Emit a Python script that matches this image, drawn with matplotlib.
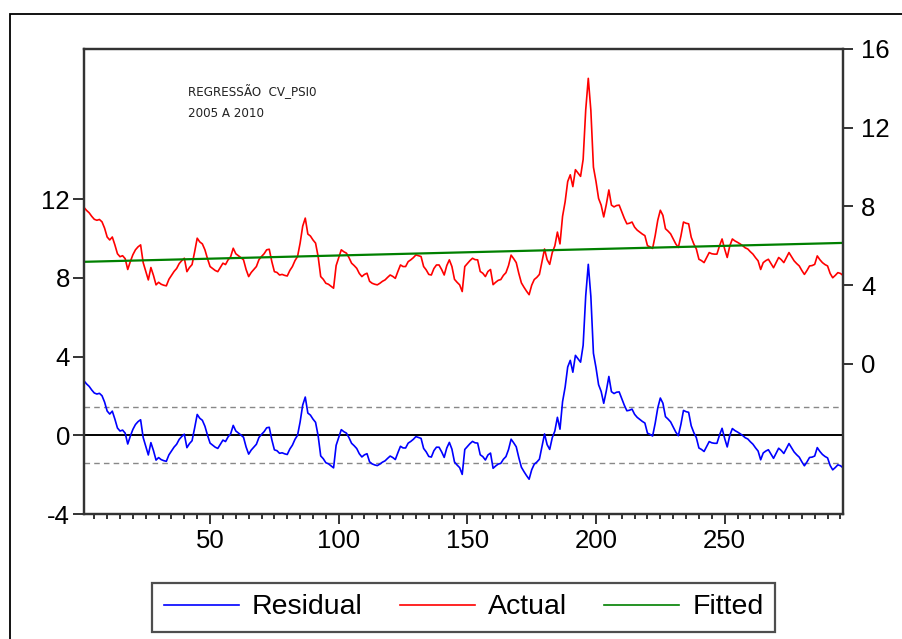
import numpy as np
import matplotlib.pyplot as plt
from matplotlib.patches import Rectangle
from matplotlib.lines import Line2D

plt.rcParams['font.family'] = ['Liberation Sans', 'DejaVu Sans']
plt.rcParams['axes.unicode_minus'] = False

# Actual series (right axis), one value per observation 1..296
actual = [
    7.95, 7.80, 7.68, 7.50, 7.35, 7.30, 7.34, 7.22, 6.90, 6.45,
    6.30, 6.45, 6.05, 5.60, 5.45, 5.50, 5.35, 4.80, 5.20, 5.55,
    5.80, 5.95, 6.05, 5.15, 4.70, 4.27, 4.90, 4.50, 4.02, 4.15,
    4.05, 4.00, 3.97, 4.30, 4.50, 4.70, 4.85, 5.10, 5.25, 5.37,
    4.69, 4.90, 5.05, 5.70, 6.39, 6.20, 6.10, 5.80, 5.35, 4.95,
    4.85, 4.75, 4.69, 4.90, 5.12, 5.05, 5.29, 5.45, 5.88, 5.60,
    5.50, 5.40, 5.29, 4.80, 4.44, 4.65, 4.80, 4.95, 5.30, 5.46,
    5.60, 5.80, 5.83, 5.20, 4.69, 4.65, 4.52, 4.55, 4.50, 4.47,
    4.75, 4.95, 5.25, 5.46, 6.14, 7.00, 7.41, 6.60, 6.50, 6.30,
    6.14, 5.46, 4.44, 4.30, 4.10, 4.05, 3.95, 3.85, 5.00, 5.40,
    5.80, 5.70, 5.63, 5.40, 5.12, 5.00, 4.86, 4.60, 4.44, 4.55,
    4.61, 4.20, 4.10, 4.05, 4.02, 4.10, 4.20, 4.27, 4.40, 4.52,
    4.45, 4.35, 4.70, 5.03, 4.95, 4.95, 5.20, 5.29, 5.40, 5.54,
    5.50, 5.46, 4.95, 4.78, 4.55, 4.52, 4.85, 5.03, 5.03, 4.80,
    4.52, 5.00, 5.29, 4.95, 4.30, 4.15, 4.02, 3.68, 4.95, 5.10,
    5.25, 5.37, 5.30, 5.29, 4.70, 4.61, 4.44, 4.70, 4.80, 4.03,
    4.15, 4.25, 4.29, 4.50, 4.64, 5.00, 5.53, 5.35, 5.15, 4.60,
    4.12, 3.90, 3.70, 3.52, 4.00, 4.29, 4.40, 4.55, 5.20, 5.84,
    5.30, 5.06, 5.66, 6.00, 6.70, 6.10, 7.50, 8.24, 9.27, 9.61,
    9.01, 9.87, 9.70, 9.53, 10.39, 12.90, 14.51, 12.88, 10.00, 9.27,
    8.41, 8.07, 7.47, 8.10, 8.84, 8.07, 7.98, 8.05, 8.07, 7.73,
    7.40, 7.12, 7.15, 7.21, 6.95, 6.80, 6.70, 6.60, 6.52, 6.01,
    5.95, 5.87, 6.52, 7.30, 7.81, 7.55, 6.87, 6.75, 6.61, 6.35,
    6.10, 5.92, 6.50, 7.21, 7.15, 7.12, 6.44, 6.10, 5.84, 5.32,
    5.25, 5.15, 5.40, 5.66, 5.60, 5.58, 5.58, 6.00, 6.35, 5.84,
    5.41, 6.00, 6.35, 6.25, 6.18, 6.10, 6.01, 5.90, 5.84, 5.70,
    5.58, 5.40, 5.24, 4.80, 5.15, 5.25, 5.32, 5.10, 4.89, 5.15,
    5.41, 5.30, 5.15, 5.40, 5.66, 5.45, 5.24, 5.10, 4.98, 4.75,
    4.55, 4.75, 4.98, 5.00, 5.06, 5.49, 5.30, 5.15, 5.05, 4.98,
    4.60, 4.38, 4.50, 4.64, 4.60, 4.50,
]
# fitted linear trend: value at first and last observation
fitted_ends = [5.19, 6.15]
# +/- 1 standard error of regression
se_band = 1.41

x_ticks = [50, 100, 150, 200, 250]
left_ticks = [-4, 0, 4, 8, 12]
right_ticks = [0, 4, 8, 12, 16]

n = len(actual)
obs = np.arange(1, n + 1)
fitted = np.linspace(fitted_ends[0], fitted_ends[1], n)
resid = np.array(actual) - fitted

W, H = 903, 639
fig = plt.figure(figsize=(W / 100, H / 100), dpi=100)
ax = fig.add_axes([84 / W, 1 - 514 / H, 759 / W, 465 / H])
ax2 = ax.twinx()

# residual panel (left axis)
ax.axhline(0, color='black', lw=1.4, zorder=2)
ax.axhline(se_band, color='#888888', lw=1.0, ls=(0, (4, 3)), zorder=2)
ax.axhline(-se_band, color='#888888', lw=1.0, ls=(0, (4, 3)), zorder=2)
ax.plot(obs, resid, color='#0000ff', lw=1.2, zorder=3)

# actual / fitted (right axis)
ax2.plot(obs, actual, color='#ff0000', lw=1.2)
ax2.plot([obs[0], obs[-1]], fitted_ends, color='#008000', lw=1.6)

ax.set_xlim(1, n)
ax.set_ylim(-4.0, 19.62)
ax2.set_ylim(-7.62, 16.0)

ax.set_xticks(x_ticks)
ax.set_xticks(np.arange(5, n, 5), minor=True)
ax.set_yticks(left_ticks)
ax2.set_yticks(right_ticks)

for a in (ax, ax2):
    for s in a.spines.values():
        s.set_linewidth(1.6)
        s.set_color('#333333')

ax.tick_params(axis='x', which='major', direction='out', length=7, width=1.4,
               labelsize=18.5, pad=4, color='#333333')
ax.tick_params(axis='x', which='minor', direction='out', length=3.5, width=1.4,
               color='#333333')
ax.tick_params(axis='y', direction='out', length=8, width=1.4, labelsize=18.5,
               pad=2, color='#333333')
ax2.tick_params(axis='y', direction='out', length=7, width=1.4, labelsize=18.5,
                pad=6, color='#333333')

fig.text(188 / W, 1 - 102 / H, 'REGRESSÃO  CV_PSI0\n2005 A 2010',
         fontsize=9.5, family='DejaVu Sans', stretch='condensed',
         color='#222222', va='center', ha='left', linespacing=1.8)

handles = [Line2D([], [], color='#0000ff', lw=1.2),
           Line2D([], [], color='#ff0000', lw=1.2),
           Line2D([], [], color='#008000', lw=1.2)]
leg = fig.legend(handles, ['Residual', 'Actual', 'Fitted'], loc='center',
                 bbox_to_anchor=(463.5 / W, 1 - 607.5 / H), ncol=3,
                 fontsize=20.5, frameon=True, fancybox=False, handlelength=2.65,
                 handletextpad=0.45, columnspacing=1.3, borderpad=0.4,
                 borderaxespad=0)
leg.get_frame().set_edgecolor('#222222')
leg.get_frame().set_linewidth(1.6)

# outer frame (cut off at right and bottom)
fig.add_artist(Rectangle((10 / W, -0.2), 1.2, 1 - 14 / H + 0.2,
                         transform=fig.transFigure, fill=False,
                         edgecolor='black', lw=1.3, clip_on=False))

fig.savefig('out.png', dpi=100)
